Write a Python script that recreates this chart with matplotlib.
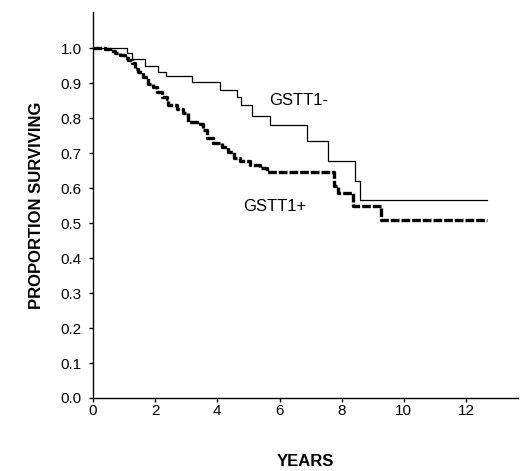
import matplotlib.pyplot as plt

plt.rcParams['font.family'] = ['Liberation Sans', 'DejaVu Sans']

# Kaplan-Meier steps (years, proportion surviving)
neg_years = [0, 1.1, 1.27, 1.68, 2.1, 2.35, 3.2, 4.1, 4.62, 4.75, 5.12,
             5.7, 6.9, 7.56, 8.42, 8.6, 12.67]
neg_surv = [1.0, 0.987, 0.969, 0.949, 0.932, 0.92, 0.903, 0.88, 0.86, 0.837,
            0.807, 0.78, 0.735, 0.678, 0.62, 0.566, 0.566]

pos_years = [0, 0.39, 0.55, 0.71, 0.87, 1.03, 1.14, 1.24, 1.35, 1.46, 1.62,
             1.78, 1.94, 2.05, 2.21, 2.37, 2.42, 2.69, 2.9, 3.07, 3.44, 3.55,
             3.66, 3.87, 4.14, 4.35, 4.52, 4.73, 5.05, 5.37, 5.59, 7.75,
             7.88, 8.35, 9.25, 12.67]
pos_surv = [1.0, 0.998, 0.991, 0.986, 0.979, 0.972, 0.965, 0.958, 0.941,
            0.931, 0.917, 0.898, 0.889, 0.874, 0.86, 0.855, 0.836, 0.827,
            0.813, 0.79, 0.783, 0.766, 0.742, 0.728, 0.718, 0.704, 0.685,
            0.676, 0.666, 0.656, 0.646, 0.606, 0.585, 0.549, 0.51, 0.51]

x_ticks = [0, 2, 4, 6, 8, 10, 12]
y_ticks = [0.0, 0.1, 0.2, 0.3, 0.4, 0.5, 0.6, 0.7, 0.8, 0.9, 1.0]

fig = plt.figure(figsize=(5.2, 4.71), dpi=100)
ax = fig.add_axes([0.1788, 0.155, 0.8173, 0.8195])

ax.plot(neg_years, neg_surv, drawstyle='steps-post', color='black', lw=0.9)
ax.plot(pos_years, pos_surv, drawstyle='steps-post', color='black', lw=2.4,
        linestyle=(0, (2.6, 0.6)))

ax.text(5.65, 0.849, 'GSTT1-', fontsize=12, va='center', ha='left')
ax.text(4.84, 0.546, 'GSTT1+', fontsize=12, va='center', ha='left')

ax.set_xlim(0, 13.67)
ax.set_ylim(0, 1.103)
ax.set_xticks(x_ticks)
ax.set_yticks(y_ticks)
ax.set_yticklabels([f'{v:.1f}' for v in y_ticks])

for side in ['top', 'right']:
    ax.spines[side].set_visible(False)
for side in ['left', 'bottom']:
    ax.spines[side].set_linewidth(1.0)

ax.tick_params(axis='both', direction='out', length=3, width=1.0, labelsize=11)
ax.tick_params(axis='y', pad=5)
ax.tick_params(axis='x', pad=1)

ax.set_xlabel('YEARS', fontsize=12, fontweight='bold', labelpad=26)
ax.set_ylabel('PROPORTION SURVIVING', fontsize=12, fontweight='bold', labelpad=12)

fig.savefig('out.png', dpi=100)
